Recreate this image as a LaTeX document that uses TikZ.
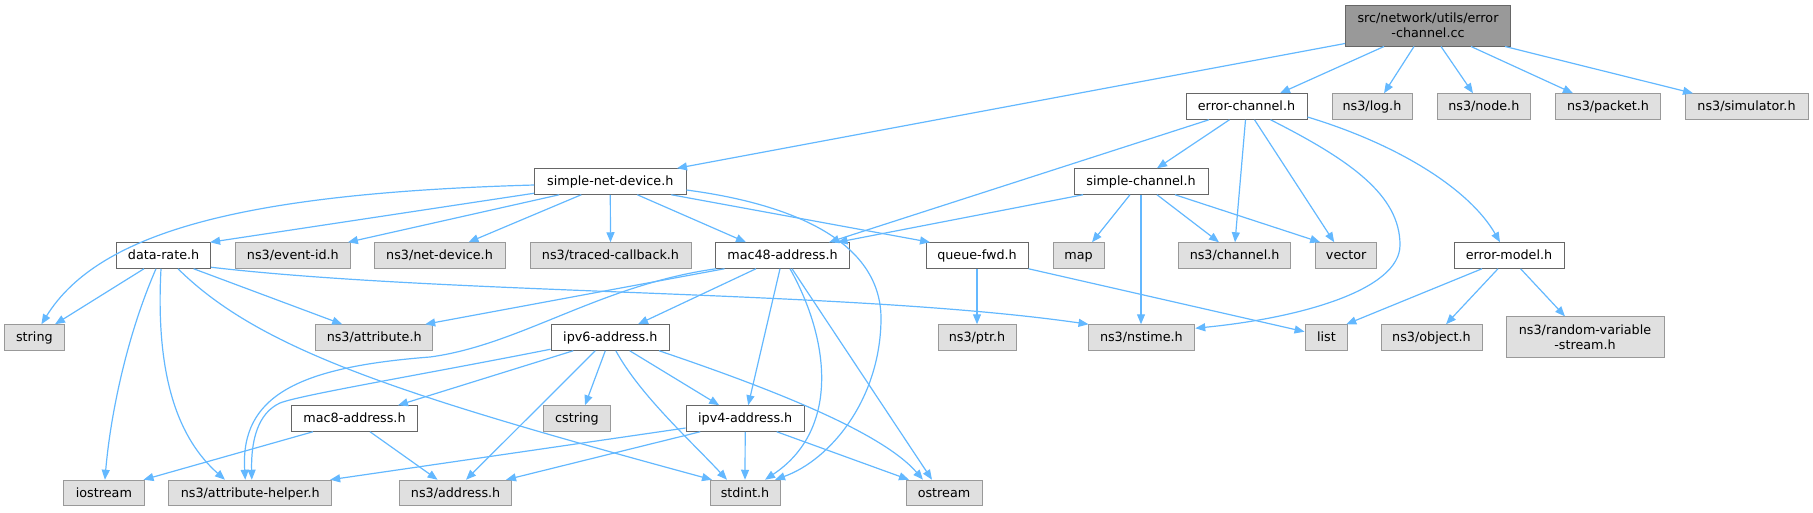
\documentclass[tikz,border=0pt]{standalone}
\usepackage{fontspec}
\setmainfont{DejaVu Sans}
\usetikzlibrary{arrows.meta}
\definecolor{edgec}{HTML}{63B8FF}
\definecolor{gfill}{HTML}{E0E0E0}
\definecolor{gdraw}{HTML}{999999}
\definecolor{wdraw}{HTML}{666666}
\definecolor{tfill}{HTML}{999999}
\newcommand\gfont{\fontsize{12.75}{15}\selectfont}
\newcommand\gfontb{\fontsize{12.75}{14.5}\selectfont}
\begin{document}
\begin{tikzpicture}[x=1pt,y=-1pt,
  wbox/.style={draw=wdraw, fill=white, line width=1pt, minimum height=25.5pt, inner sep=0pt, font=\gfont, text height=10pt, text depth=1.6pt},
  gbox/.style={wbox, draw=gdraw, fill=gfill},
  dep/.style={draw=edgec, line width=1.2pt, -{Triangle[length=10pt,width=8pt,fill=edgec]}}]
\useasboundingbox (0,0) rectangle (1813,512);
% nodes
\node[draw=wdraw, fill=tfill, line width=1pt, inner sep=0pt, font=\gfont, minimum width=165pt, minimum height=41pt, align=center] (T) at (1428,25.5) {src/network/utils/error\\-channel.cc};
\node[wbox, minimum width=121pt] (errch) at (1246.5,106.5) {error-channel.h};
\node[gbox, minimum width=80pt] (log) at (1372,106.5) {ns3/log.h};
\node[gbox, minimum width=93.6pt] (nodeh) at (1483.8,106.5) {ns3/node.h};
\node[gbox, minimum width=105pt] (packet) at (1608,106.5) {ns3/packet.h};
\node[gbox, minimum width=123pt] (sim) at (1746.5,106.5) {ns3/simulator.h};
\node[wbox, minimum width=151.4pt] (snd) at (610.3,181.5) {simple-net-device.h};
\node[wbox, minimum width=134pt] (sch) at (1141,181.5) {simple-channel.h};
\node[wbox, minimum width=94pt] (drate) at (163.6,255.5) {data-rate.h};
\node[gbox, minimum width=114.3pt] (evid) at (292.9,255.5) {ns3/event-id.h};
\node[gbox, minimum width=131pt] (netdev) at (439.5,255.5) {ns3/net-device.h};
\node[gbox, minimum width=161pt] (traced) at (610.5,255.5) {ns3/traced-callback.h};
\node[wbox, minimum width=134pt] (mac48) at (782.5,255.5) {mac48-address.h};
\node[wbox, minimum width=102pt] (qfwd) at (977,255.5) {queue-fwd.h};
\node[gbox, minimum width=51pt] (map) at (1078.5,255.5) {map};
\node[gbox, minimum width=111.8pt] (chan) at (1234.6,255.5) {ns3/channel.h};
\node[gbox, minimum width=61.5pt] (vec) at (1346.2,255.5) {vector};
\node[wbox, minimum width=110pt] (emodel) at (1509,255.5) {error-model.h};
\node[gbox, minimum width=59.3pt] (str) at (34.4,337.5) {string};
\node[gbox, minimum width=117.5pt] (attr) at (374.2,337.5) {ns3/attribute.h};
\node[wbox, minimum width=118.6pt] (ipv6) at (610.3,337.5) {ipv6-address.h};
\node[gbox, minimum width=78pt] (ptr) at (977,337.5) {ns3/ptr.h};
\node[gbox, minimum width=106.7pt] (nstime) at (1141.4,337.5) {ns3/nstime.h};
\node[gbox, minimum width=42.7pt] (list) at (1326.4,337.5) {list};
\node[gbox, minimum width=101pt] (obj) at (1431.5,337.5) {ns3/object.h};
\node[draw=gdraw, fill=gfill, line width=1pt, inner sep=0pt, font=\gfontb, minimum width=158pt, minimum height=40.3pt, align=center] (rvs) at (1585,337) {ns3/random-variable\\-stream.h};
\node[wbox, minimum width=125.6pt] (mac8) at (354.5,418.5) {mac8-address.h};
\node[gbox, minimum width=66.8pt] (cstr) at (577,418.5) {cstring};
\node[wbox, minimum width=118.3pt] (ipv4) at (745.2,418.5) {ipv4-address.h};
\node[gbox, minimum width=80.3pt] (ios) at (103.9,493) {iostream};
\node[gbox, minimum width=162.7pt] (ahelp) at (250.3,493) {ns3/attribute-helper.h};
\node[gbox, minimum width=111.9pt] (addr) at (455.6,493) {ns3/address.h};
\node[gbox, minimum width=70pt] (stdint) at (745,493) {stdint.h};
\node[gbox, minimum width=76pt] (ostr) at (944,493) {ostream};
% edges from top
\draw[dep] ([yshift=3pt]T.south west) -- ([xshift=66.7pt]snd.north);
\draw[dep] ([xshift=-44pt]T.south) -- ([xshift=33.5pt]errch.north);
\draw[dep] ([xshift=-14pt]T.south) -- ([xshift=12pt]log.north);
\draw[dep] ([xshift=13pt]T.south) -- ([xshift=-10.8pt]nodeh.north);
\draw[dep] ([xshift=43pt]T.south) -- ([xshift=-35pt]packet.north);
\draw[dep] ([xshift=77pt]T.south) -- ([xshift=-53.5pt]sim.north);
% error-channel.h
\draw[dep] ([xshift=-37.5pt]errch.south) -- ([xshift=46.5pt]mac48.north);
\draw[dep] ([xshift=-17pt]errch.south) -- ([xshift=16pt]sch.north);
\draw[dep] ([xshift=-1pt]errch.south) -- ([xshift=0.4pt]chan.north);
\draw[dep] ([xshift=8pt]errch.south) -- ([xshift=-12pt]vec.north);
\draw[dep] ([xshift=24pt]errch.south) .. controls (1350,160) and (1400,195) .. (1400,245) .. controls (1400,290) and (1300,318) .. ([yshift=-4pt]nstime.north east);
\draw[dep] ([yshift=-10.5pt]errch.east) .. controls (1400,145) and (1470,190) .. ([xshift=-9pt]emodel.north);
% simple-channel.h
\draw[dep] ([xshift=-58pt]sch.south) -- ([xshift=55pt]mac48.north);
\draw[dep] ([xshift=-11pt]sch.south) -- ([xshift=13.5pt]map.north);
\draw[dep] (sch.south) -- ([xshift=-0.4pt]nstime.north);
\draw[dep] ([xshift=16pt]sch.south) -- ([xshift=-15.6pt]chan.north);
\draw[dep] ([xshift=34pt]sch.south) -- ([xshift=-26pt]vec.north);
% simple-net-device.h
\draw[dep] ([yshift=-3.5pt]snd.west) .. controls (250,193) and (100,230) .. ([xshift=7pt]str.north);
\draw[dep] ([yshift=1.5pt]snd.south west) -- ([xshift=-1pt]drate.north east);
\draw[dep] ([xshift=-51pt]snd.south) -- ([xshift=55pt]evid.north);
\draw[dep] ([xshift=-29pt]snd.south) -- ([xshift=29pt]netdev.north);
\draw[dep] (snd.south) -- (traced.north);
\draw[dep] ([xshift=27pt]snd.south) -- ([xshift=-36.5pt]mac48.north);
\draw[dep] ([xshift=61pt]snd.south) -- ([xshift=-47pt]qfwd.north);
\draw[dep] ([yshift=-8.5pt]snd.east) .. controls (800,205) and (882,245) .. (881,320) .. controls (880,400) and (830,460) .. ([xshift=30pt]stdint.north);
% data-rate.h
\draw[dep] ([xshift=-19.6pt]drate.south) -- ([xshift=20.6pt]str.north);
\draw[dep] ([xshift=-7.6pt]drate.south) .. controls (125,340) and (110,420) .. ([xshift=1pt]ios.north);
\draw[dep] ([xshift=-2.6pt]drate.south) .. controls (155,380) and (180,440) .. ([xshift=-25.3pt]ahelp.north);
\draw[dep] ([xshift=14.4pt]drate.south) .. controls (260,350) and (400,395) .. ([xshift=-33pt]stdint.north);
\draw[dep] ([xshift=30pt]drate.south) -- ([xshift=-32pt]attr.north);
\draw[dep] ([yshift=1.5pt]drate.south east) .. controls (450,295) and (850,290) .. ([xshift=1pt]nstime.north west);
% mac48-address.h
\draw[dep] ([xshift=-58pt]mac48.south) -- ([xshift=51pt]attr.north);
\draw[dep] ([xshift=1pt]mac48.south west) .. controls (600,285) and (520,345) .. (430,357) .. controls (300,367) and (240,395) .. ([xshift=-5pt]ahelp.north);
\draw[dep] ([xshift=-26.5pt]mac48.south) -- ([xshift=27.7pt]ipv6.north);
\draw[dep] ([xshift=-2.5pt]mac48.south) -- ([xshift=3pt]ipv4.north);
\draw[dep] ([xshift=7.5pt]mac48.south) .. controls (830,340) and (840,430) .. ([xshift=20pt]stdint.north);
\draw[dep] ([xshift=9.5pt]mac48.south) -- ([xshift=-12pt]ostr.north);
% queue-fwd.h
\draw[dep] (qfwd.south) -- (ptr.north);
\draw[dep] (qfwd.south east) -- ([yshift=5.8pt]list.west);
% error-model.h
\draw[dep] ([xshift=-27pt]emodel.south) -- ([xshift=-2pt]list.north east);
\draw[dep] ([xshift=-11pt]emodel.south) -- ([xshift=14.5pt]obj.north);
\draw[dep] ([xshift=11.6pt]emodel.south) -- ([xshift=-20pt]rvs.north);
% ipv6-address.h
\draw[dep] ([yshift=1.5pt]ipv6.south west) .. controls (420,375) and (300,395) .. (280,403) .. controls (258,413) and (251,440) .. ([xshift=1.5pt]ahelp.north);
\draw[dep] ([xshift=-37pt]ipv6.south) -- ([xshift=43.5pt]mac8.north);
\draw[dep] ([xshift=-5pt]ipv6.south) -- ([xshift=8pt]cstr.north);
\draw[dep] ([xshift=-15pt]ipv6.south) -- ([xshift=10.4pt]addr.north);
\draw[dep] ([xshift=5.5pt]ipv6.south) .. controls (640,395) and (690,440) .. ([xshift=-18pt]stdint.north);
\draw[dep] ([xshift=19.4pt]ipv6.south) -- ([xshift=-26pt]ipv4.north);
\draw[dep] ([xshift=48.7pt]ipv6.south) .. controls (760,385) and (880,430) .. ([xshift=-21pt]ostr.north);
% mac8-address.h
\draw[dep] ([xshift=-41.5pt]mac8.south) -- ([xshift=-1pt]ios.north east);
\draw[dep] ([xshift=15.5pt]mac8.south) -- ([xshift=-18pt]addr.north);
% ipv4-address.h
\draw[dep] ([yshift=-9.5pt]ipv4.west) -- ([xshift=-2pt]ahelp.north east);
\draw[dep] ([xshift=-45pt]ipv4.south) -- ([xshift=-6pt]addr.north east);
\draw[dep] (ipv4.south) -- (stdint.north);
\draw[dep] ([xshift=31.5pt]ipv4.south) -- ([xshift=-35pt]ostr.north);
\end{tikzpicture}
\end{document}
